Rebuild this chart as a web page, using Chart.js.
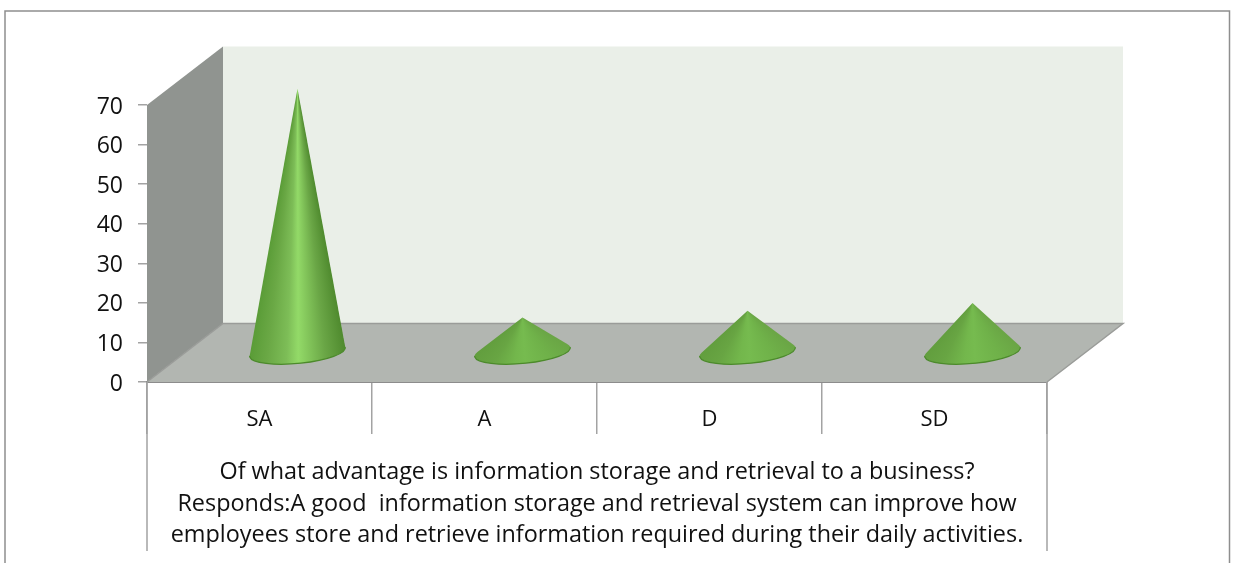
<!DOCTYPE html>
<html>
<head>
<meta charset="utf-8">
<style>
body { margin: 0; background: #fff; }
canvas { display: block; }
</style>
<script src="https://cdn.jsdelivr.net/npm/chart.js@4"></script>
</head>
<body>
<canvas id="canvas" width="1235" height="563"></canvas>
<script>
var categories = ['SA', 'A', 'D', 'SD'];
var responses = [66.7, 8.9, 10.6, 12.6];
var yTicks = [0, 10, 20, 30, 40, 50, 60, 70];
var caption = [
    'Of what advantage is information storage and retrieval to a business?',
    'Responds:A good  information storage and retrieval system can improve how',
    'employees store and retrieve information required during their daily activities.'
];

// how far the back wall sits from the front of the box
var depthX = 76;
var depthY = 58.5;
var fontName = '"Open Sans", sans-serif';
var lineColor = '#a3a3a3';

function polygon(ctx, points, fill) {
    ctx.beginPath();
    points.forEach(function (p, i) {
        if (i === 0) ctx.moveTo(p[0], p[1]);
        else ctx.lineTo(p[0], p[1]);
    });
    ctx.closePath();
    ctx.fillStyle = fill;
    ctx.fill();
}

function drawBox(chart) {
    var ctx = chart.ctx;
    var area = chart.chartArea;
    var l = area.left, r = area.right, t = area.top, b = area.bottom;
    ctx.save();

    polygon(ctx, [[l + depthX, t - depthY], [r + depthX, t - depthY], [r + depthX, b - depthY], [l + depthX, b - depthY]], '#eaefe8');
    polygon(ctx, [[l, t], [l + depthX, t - depthY], [l + depthX, b - depthY], [l, b]], '#909490');
    polygon(ctx, [[l, b], [l + depthX, b - depthY], [r + depthX, b - depthY], [r, b]], '#b2b6b1');

    ctx.strokeStyle = '#9a9c99';
    ctx.lineWidth = 1.5;
    ctx.beginPath();
    ctx.moveTo(l, b);
    ctx.lineTo(l + depthX, b - depthY);
    ctx.lineTo(r + depthX, b - depthY);
    ctx.lineTo(r, b);
    ctx.stroke();
    ctx.restore();
}

function drawCone(ctx, el) {
    var cx = el.x + depthX / 2;
    var cy = el.base - depthY / 2;
    var apexX = cx;
    var apexY = el.y - depthY / 2;
    var rx = el.width / 2;
    var ry = 11.5;
    var tilt = -5.3 * Math.PI / 180;

    // apex in the frame of the base ellipse, to find where the sides touch it
    var dx = apexX - cx, dy = apexY - cy;
    var ux = (dx * Math.cos(tilt) + dy * Math.sin(tilt)) / rx;
    var uy = (-dx * Math.sin(tilt) + dy * Math.cos(tilt)) / ry;
    var dist = Math.sqrt(ux * ux + uy * uy);
    var mid = Math.atan2(uy, ux);
    var spread = Math.acos(1 / dist);
    var rightA = mid + spread;
    var leftA = mid - spread;

    function onRim(a) {
        var ex = rx * Math.cos(a), ey = ry * Math.sin(a);
        return [cx + ex * Math.cos(tilt) - ey * Math.sin(tilt), cy + ex * Math.sin(tilt) + ey * Math.cos(tilt)];
    }
    var rp = onRim(rightA), lp = onRim(leftA);
    var startA = Math.atan2(rp[1] - apexY, rp[0] - apexX);
    var endA = Math.atan2(lp[1] - apexY, lp[0] - apexX);
    var span = (endA - startA) / (2 * Math.PI);

    // the tall cone has a strong light stripe, the flat ones are softer
    var tall = (cy - apexY) > 150;
    var grad = ctx.createConicGradient(startA, apexX, apexY);
    grad.addColorStop(0, tall ? '#4f8a2e' : '#6aa545');
    grad.addColorStop(span * 0.22, tall ? '#6aa646' : '#6fb149');
    grad.addColorStop(span * 0.5, tall ? '#93da68' : '#76bb4f');
    grad.addColorStop(span * 0.62, tall ? '#7dbd57' : '#73b74c');
    grad.addColorStop(span * 0.82, tall ? '#6aa845' : '#68a543');
    grad.addColorStop(span, tall ? '#5a9c37' : '#629e3e');

    ctx.save();
    ctx.beginPath();
    ctx.moveTo(apexX, apexY);
    ctx.lineTo(rp[0], rp[1]);
    ctx.ellipse(cx, cy, rx, ry, tilt, rightA, leftA + 2 * Math.PI, false);
    ctx.closePath();
    ctx.fillStyle = grad;
    ctx.fill();

    ctx.beginPath();
    ctx.ellipse(cx, cy, rx, ry, tilt, -0.05, Math.PI + 0.05, false);
    ctx.strokeStyle = '#4c8a2b';
    ctx.lineWidth = 1.2;
    ctx.stroke();
    ctx.restore();
}

var conePlugin = {
    id: 'cones',
    beforeDatasetsDraw: function (chart) {
        drawBox(chart);
    },
    afterDatasetsDraw: function (chart) {
        chart.getDatasetMeta(0).data.forEach(function (el) {
            drawCone(chart.ctx, el);
        });
    },
    afterDraw: function (chart) {
        var ctx = chart.ctx;
        var area = chart.chartArea;
        ctx.save();
        ctx.strokeStyle = lineColor;
        ctx.lineWidth = 1.5;
        // table sides run past the caption
        ctx.beginPath();
        ctx.moveTo(area.left, area.bottom);
        ctx.lineTo(area.left, 551);
        ctx.moveTo(area.right, area.bottom);
        ctx.lineTo(area.right, 551);
        ctx.stroke();
        // outer frame of the picture, open at the bottom
        ctx.strokeStyle = '#8e8e8e';
        ctx.beginPath();
        ctx.moveTo(5, 563);
        ctx.lineTo(5, 11);
        ctx.lineTo(1229.5, 11);
        ctx.lineTo(1229.5, 563);
        ctx.stroke();
        ctx.restore();
    }
};

var config = {
    type: 'bar',
    data: {
        labels: categories,
        datasets: [{
            label: 'Responses',
            data: responses,
            backgroundColor: 'rgba(0,0,0,0)',
            borderWidth: 0,
            categoryPercentage: 1,
            barPercentage: 0.427
        }]
    },
    options: {
        responsive: false,
        animation: false,
        layout: { padding: { left: 0, top: 105, right: 188, bottom: 0 } },
        plugins: { legend: { display: false }, tooltip: { enabled: false } },
        scales: {
            x: {
                afterFit: function (scale) { scale.height = 181; },
                grid: { drawOnChartArea: false, tickLength: 52, color: lineColor, lineWidth: 1.5 },
                border: { color: '#8c8c8c', width: 2 },
                ticks: { color: '#111', padding: -27, maxRotation: 0, font: { family: fontName, size: 22 } },
                title: {
                    display: true,
                    text: caption,
                    color: '#111',
                    font: { family: fontName, size: 23.4, lineHeight: 1.34 },
                    padding: { top: 0, bottom: 12 }
                }
            },
            y: {
                min: 0,
                max: 70,
                afterFit: function (scale) { scale.width = 147; },
                afterBuildTicks: function (scale) {
                    scale.ticks = yTicks.map(function (v) { return { value: v }; });
                },
                grid: { drawOnChartArea: false, tickLength: 9, color: lineColor, lineWidth: 1.5 },
                border: { display: false },
                ticks: { color: '#111', padding: 15, labelOffset: 2, font: { family: fontName, size: 23 } }
            }
        }
    },
    plugins: [conePlugin]
};

window.onload = function () {
    var ctx = document.getElementById('canvas').getContext('2d');
    new Chart(ctx, config);
};
</script>
</body>
</html>
